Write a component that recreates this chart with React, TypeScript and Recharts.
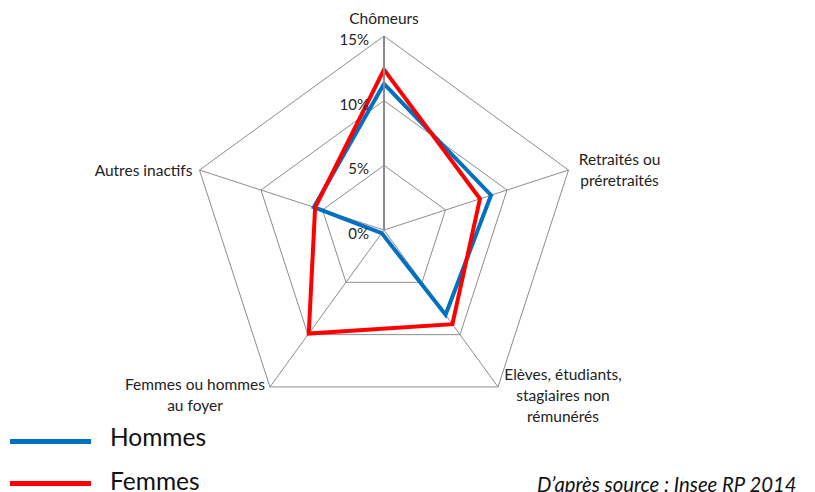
import React from 'react';
import { RadarChart, Radar, PolarGrid, PolarAngleAxis, PolarRadiusAxis } from 'recharts';

const categories = [
  'Chômeurs',
  'Retraités ou préretraités',
  'Elèves, étudiants, stagiaires non rémunérés',
  'Femmes ou hommes au foyer',
  'Autres inactifs',
];
const hommes = [11.3, 8.7, 8.1, 0.3, 5.7];
const femmes = [12.4, 7.8, 9.0, 9.9, 5.6];
const radiusTicks = [0, 5, 10, 15];

const data = categories.map((c, i) => ({ cat: c, hommes: hommes[i], femmes: femmes[i] }));

const FONT = 'Lato, "Open Sans", sans-serif';

// label layout per axis: lines, offset from vertex, anchor
const labelLayout: Record<string, { lines: string[]; dx: number; dy: number; anchor: string }> = {
  'Chômeurs': { lines: ['Chômeurs'], dx: 0, dy: -18, anchor: 'middle' },
  'Retraités ou préretraités': { lines: ['Retraités ou', 'préretraités'], dx: 51, dy: -11, anchor: 'middle' },
  'Elèves, étudiants, stagiaires non rémunérés': {
    lines: ['Elèves, étudiants,', 'stagiaires non', 'rémunérés'], dx: 65, dy: -13, anchor: 'middle',
  },
  'Femmes ou hommes au foyer': { lines: ['Femmes ou hommes', 'au foyer'], dx: -75, dy: -3, anchor: 'middle' },
  'Autres inactifs': { lines: ['Autres inactifs'], dx: -7, dy: 0, anchor: 'end' },
};

const CX = 384;
const CY = 230;
const R = 194;

function AngleTick({ payload }: any) {
  const idx = categories.indexOf(payload.value);
  const ang = (90 - idx * 72) * Math.PI / 180;
  const vx = CX + R * Math.cos(ang);
  const vy = CY - R * Math.sin(ang);
  const l = labelLayout[payload.value];
  return (
    <text x={vx + l.dx} y={vy + l.dy} textAnchor={l.anchor as any} fontFamily={FONT} fontSize={15.5} fill="#222" dominantBaseline="central">
      {l.lines.map((s, i) => (
        <tspan key={i} x={vx + l.dx} dy={i === 0 ? 0 : 21}>{s}</tspan>
      ))}
    </text>
  );
}

function RadiusTick({ x, y, payload }: any) {
  return (
    <text x={x - 15} y={y + 3} textAnchor="end" dominantBaseline="central" fontFamily={FONT} fontSize={15} fill="#222">
      {payload.value}%
    </text>
  );
}

export default function App() {
  return (
    <div style={{ position: 'absolute', left: 0, top: 0, width: 815, height: 492, background: '#fff', fontFamily: FONT, overflow: 'hidden' }}>
      <RadarChart width={815} height={492} cx={CX} cy={CY} outerRadius={R} data={data} margin={{ top: 0, right: 0, bottom: 0, left: 0 }}>
        <PolarGrid gridType="polygon" stroke="#8c8c8c" strokeWidth={1} />
        <PolarAngleAxis dataKey="cat" tick={<AngleTick />} axisLine={false} tickLine={false} />
        <PolarRadiusAxis
          angle={90}
          domain={[0, 15]}
          ticks={radiusTicks as any}
          tick={<RadiusTick />}
          axisLine={{ stroke: '#8c8c8c', strokeWidth: 2 }}
          tickLine={false}
        />
        <Radar dataKey="hommes" name="Hommes" stroke="#0070C0" strokeWidth={4} fill="none" fillOpacity={0} isAnimationActive={false} />
        <Radar dataKey="femmes" name="Femmes" stroke="#FF0000" strokeWidth={4} fill="none" fillOpacity={0} isAnimationActive={false} />
      </RadarChart>
      <div style={{ position: 'absolute', left: 10, top: 439, width: 81, height: 5, background: '#0070C0' }} />
      <div style={{ position: 'absolute', left: 110, top: 422, fontSize: 24.5, lineHeight: '30px', color: '#111' }}>Hommes</div>
      <div style={{ position: 'absolute', left: 10, top: 481, width: 81, height: 5, background: '#FF0000' }} />
      <div style={{ position: 'absolute', left: 110, top: 466, fontSize: 24.5, lineHeight: '30px', color: '#111' }}>Femmes</div>
      <div style={{ position: 'absolute', left: 537, top: 472, fontSize: 20.3, lineHeight: '24px', fontStyle: 'italic', color: '#111' }}>
        D’après source : Insee RP 2014
      </div>
    </div>
  );
}
